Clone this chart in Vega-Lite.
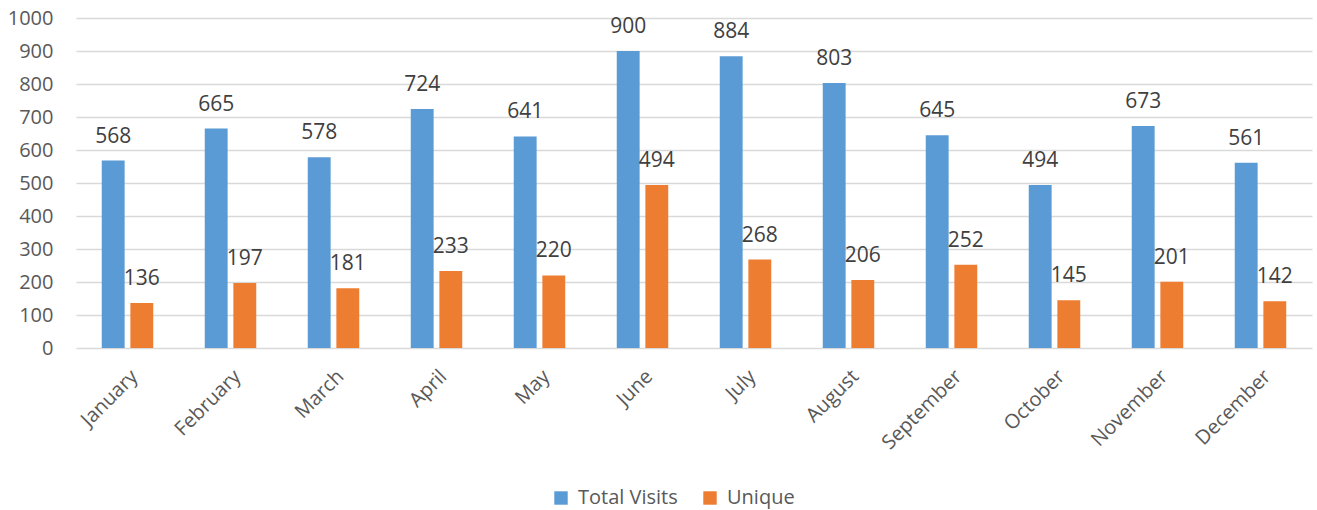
{
  "$schema": "https://vega.github.io/schema/vega-lite/v6.json",
  "width": 1236,
  "height": 330,
  "autosize": {"type": "none"},
  "padding": {"left": 76, "top": 18, "right": 5, "bottom": 162},
  "background": "white",
  "config": {
    "view": {"stroke": null},
    "font": "Open Sans",
    "text": {"font": "Open Sans"}
  },
  "data": {
    "values": [
      {"month": "January", "series": "Total Visits", "value": 568},
      {"month": "February", "series": "Total Visits", "value": 665},
      {"month": "March", "series": "Total Visits", "value": 578},
      {"month": "April", "series": "Total Visits", "value": 724},
      {"month": "May", "series": "Total Visits", "value": 641},
      {"month": "June", "series": "Total Visits", "value": 900},
      {"month": "July", "series": "Total Visits", "value": 884},
      {"month": "August", "series": "Total Visits", "value": 803},
      {"month": "September", "series": "Total Visits", "value": 645},
      {"month": "October", "series": "Total Visits", "value": 494},
      {"month": "November", "series": "Total Visits", "value": 673},
      {"month": "December", "series": "Total Visits", "value": 561},
      {"month": "January", "series": "Unique", "value": 136},
      {"month": "February", "series": "Unique", "value": 197},
      {"month": "March", "series": "Unique", "value": 181},
      {"month": "April", "series": "Unique", "value": 233},
      {"month": "May", "series": "Unique", "value": 220},
      {"month": "June", "series": "Unique", "value": 494},
      {"month": "July", "series": "Unique", "value": 268},
      {"month": "August", "series": "Unique", "value": 206},
      {"month": "September", "series": "Unique", "value": 252},
      {"month": "October", "series": "Unique", "value": 145},
      {"month": "November", "series": "Unique", "value": 201},
      {"month": "December", "series": "Unique", "value": 142}
    ]
  },
  "encoding": {
    "x": {
      "field": "month",
      "type": "nominal",
      "sort": ["January","February","March","April","May","June","July","August","September","October","November","December"],
      "scale": {"paddingInner": 0.5, "paddingOuter": 0.25},
      "axis": {
        "title": null,
        "labelAngle": -45,
        "labelFontSize": 20,
        "labelColor": "#595959",
        "labelPadding": 18,
        "ticks": false,
        "domain": false
      }
    },
    "xOffset": {
      "field": "series",
      "type": "nominal",
      "scale": {"paddingInner": 0.2, "paddingOuter": 0}
    },
    "y": {
      "field": "value",
      "type": "quantitative",
      "scale": {"domain": [0, 1000]},
      "axis": {
        "title": null,
        "values": [0,100,200,300,400,500,600,700,800,900,1000],
        "format": "d",
        "labelFontSize": 20,
        "labelColor": "#595959",
        "labelPadding": 23,
        "ticks": false,
        "domain": false,
        "gridColor": "#d9d9d9",
        "gridWidth": 1.5
      }
    }
  },
  "layer": [
    {
      "mark": {"type": "bar"},
      "encoding": {
        "color": {
          "field": "series",
          "type": "nominal",
          "scale": {"domain": ["Total Visits", "Unique"], "range": ["#5B9BD5", "#ED7D31"]},
          "legend": {
            "title": null,
            "orient": "none",
            "direction": "horizontal",
            "legendX": 475,
            "legendY": 470,
            "symbolType": "square",
            "symbolSize": 180,
            "symbolStrokeWidth": 0,
            "labelFontSize": 20,
            "labelColor": "#595959",
            "labelOffset": 7,
            "columnPadding": 22
          }
        }
      }
    },
    {
      "mark": {"type": "text", "fontSize": 21, "color": "#404040", "baseline": "alphabetic", "dy": -18},
      "encoding": {
        "text": {"field": "value", "type": "quantitative"}
      }
    }
  ]
}
